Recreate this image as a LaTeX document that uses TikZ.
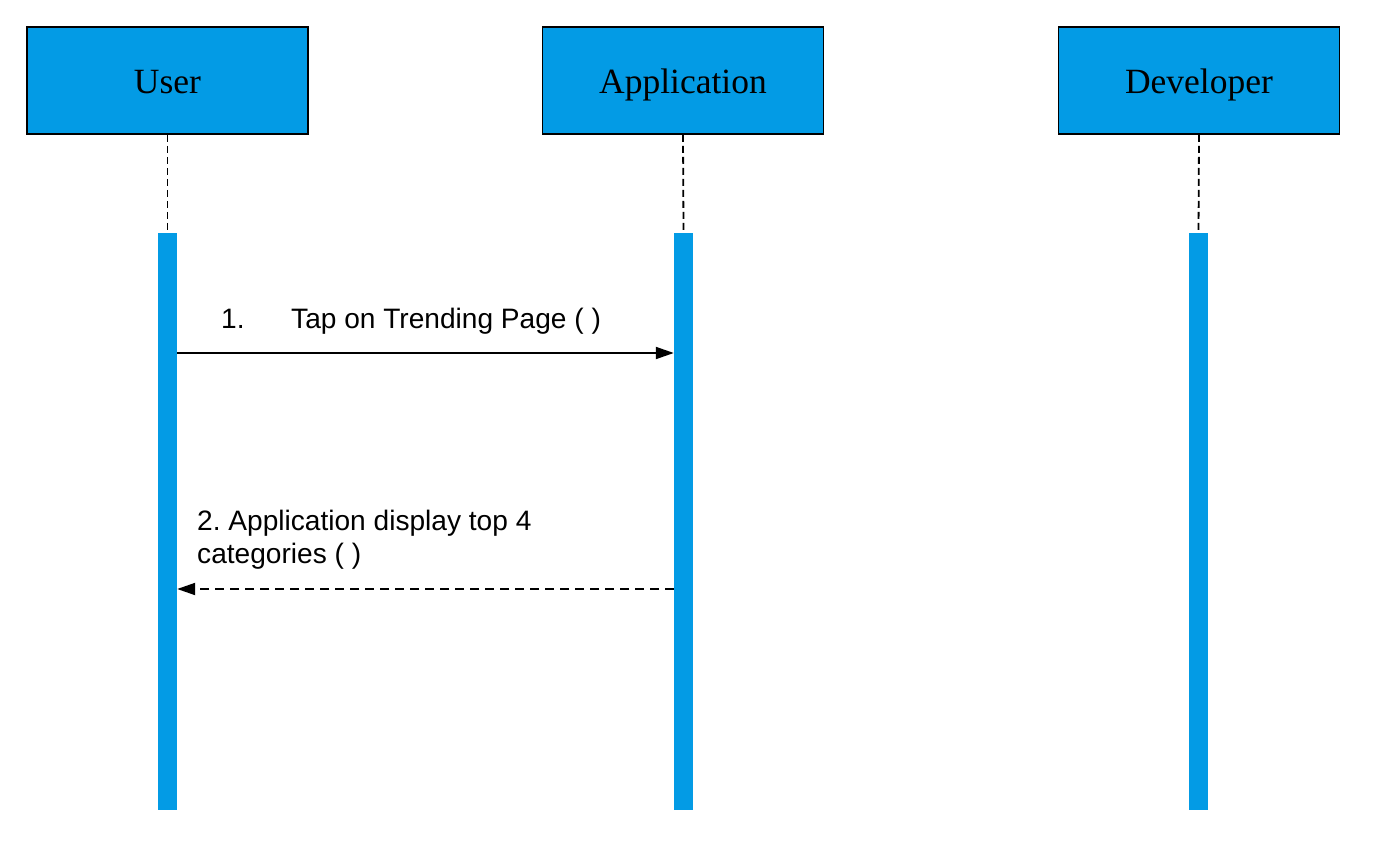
\documentclass[tikz,border=0pt]{standalone}
\usepackage{fontspec}
\setmainfont{Liberation Serif}
\newfontfamily\msgfont{Liberation Sans}
\usetikzlibrary{arrows.meta,calc}
\definecolor{lifeblue}{RGB}{3,155,229}
\tikzset{
    actor/.style = {
        draw,
        line width=1.6pt,
        fill = lifeblue,
        minimum width=281pt,
        minimum height=107pt,
        font=\fontsize{35.5}{40}\selectfont,
        text height=29pt,
        text depth=2pt,
        },
    bar/.style = {
        fill = lifeblue,
        inner sep=0pt,
        minimum width=19pt,
        minimum height=577pt,
        anchor=north,
        },
    lifeline/.style = {
        line width=1.8pt,
        dash pattern=on 7pt off 4pt,
        },
    call/.style = {
        line width=1.9pt,
        -{Triangle[length=18pt,width=12pt]},
        },
    reply/.style = {
        call,
        dash pattern=on 9pt off 6pt,
        },
    msg/.style = {
        font=\msgfont\fontsize{28.1}{33}\selectfont\frenchspacing,
        inner sep=0pt,
        anchor=base west,
        align=left,
        },
}

\begin{document}
\begin{tikzpicture}[x=1pt,y=-1pt]
            \useasboundingbox (0,0) rectangle (1381,866);

            \node[actor] (user) at (167.5,80.5) {User};
            \node[actor] (app) at (683,80.5) {Application};
            \node[actor] (dev) at (1199,80.5) {Developer};

            \node[bar] (userbar) at (167.5,233) {};
            \node[bar] (appbar) at (683.5,233) {};
            \node[bar] (devbar) at (1198.5,233) {};

            % lifelines
            \draw[lifeline] (user.south) -- (userbar.north);
            \draw[lifeline] (app.south) -- (appbar.north);
            \draw[lifeline] (dev.south) -- (devbar.north);

            % messages
            \coordinate (m1) at (0,353);
            \coordinate (m2) at (0,589);
            \draw[call] (userbar.east |- m1) -- (appbar.west |- m1);
            \draw[reply] (appbar.west |- m2) -- (userbar.east |- m2);

            \node[msg] (m1label) at (221,329) {\makebox[70pt][l]{1.}Tap on Trending Page ( )};
            \node[msg] (m2label) at (197,563) {2. Application display top 4\\categories ( )};
        \end{tikzpicture}
\end{document}
